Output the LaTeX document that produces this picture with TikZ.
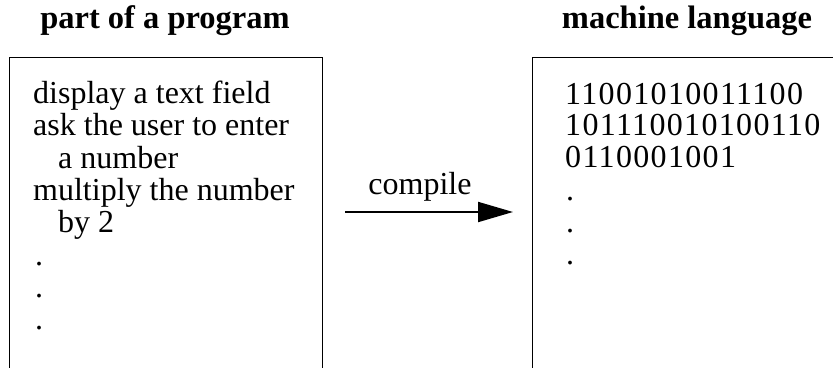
\documentclass[tikz,border=0pt]{standalone}
\usepackage{fontspec}
\setmainfont{Liberation Serif}
\usetikzlibrary{arrows.meta}
\tikzset{
  txt/.style={inner sep=0pt, anchor=base west, font=\fontsize{32}{32}\selectfont},
  bits/.style={txt, font=\fontsize{32}{32}\selectfont\addfontfeatures{LetterSpace=4.2}},
  ttl/.style={inner sep=0pt, anchor=base, font=\fontsize{32.5}{32}\selectfont\bfseries},
  panel/.style={draw, line width=1.3pt, rectangle, inner sep=0pt, anchor=north west, minimum height=400pt},
  conn/.style={line width=2pt, -{Triangle[length=35pt,width=20pt]}}
}
\begin{document}
\begin{tikzpicture}[x=1pt,y=-1pt]
\useasboundingbox (0,0) rectangle (833,367);
\clip (0,0) rectangle (833,367);
\node[ttl] (t1) at (165,28) {part of a program};
\node[ttl] (t2) at (687,28) {machine language};
\node[panel, minimum width=313pt] (bl) at (9,57) {};
\node[panel, minimum width=400pt] (br) at (532,57) {};
\node[txt] (l1) at (33,103) {display a text field};
\node[txt] (l2) at (33,135) {ask the user to enter};
\node[txt] (l3) at (58,168) {a number};
\node[txt] (l4) at (33,200) {multiply the number};
\node[txt] (l5) at (58,232) {by 2};
\node[txt] (l6) at (35,265) {.};
\node[txt] (l7) at (35,297) {.};
\node[txt] (l8) at (35,329) {.};
\node[bits] (r1) at (565,104) {11001010011100};
\node[bits] (r2) at (565,135) {101110010100110};
\node[bits] (r3) at (565,167) {0110001001};
\node[txt] (r4) at (566,200) {.};
\node[txt] (r5) at (566,232) {.};
\node[txt] (r6) at (566,264) {.};
\coordinate (a0) at (345,212);
\coordinate (a1) at (513,212);
\draw[conn] (a0) -- node[above=10pt, xshift=-9pt, inner sep=0pt, font=\fontsize{32}{32}\selectfont] (lab) {compile} (a1);
\end{tikzpicture}
\end{document}
